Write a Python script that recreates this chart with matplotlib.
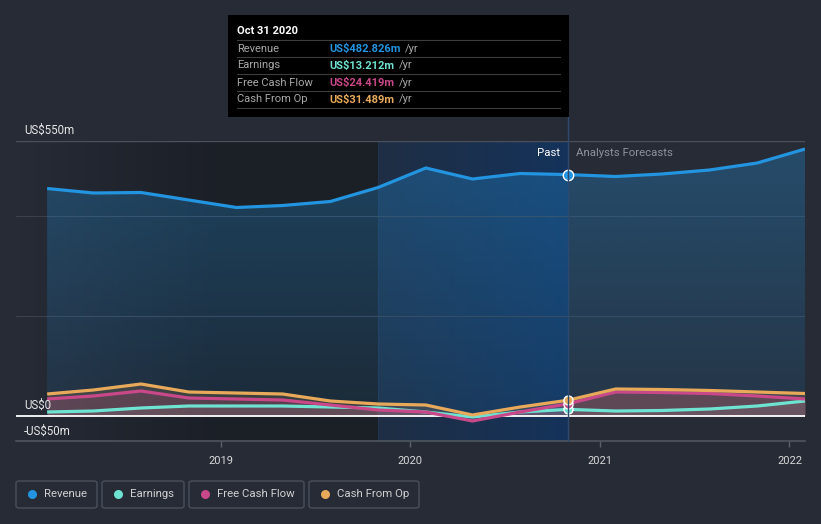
import numpy as np
import pandas as pd
import matplotlib
matplotlib.use("Agg")
import matplotlib.pyplot as plt
import matplotlib.dates as mdates
from matplotlib.patches import FancyBboxPatch, Rectangle
from matplotlib.colors import to_rgb

plt.rcParams['font.family'] = ['Roboto', 'DejaVu Sans']

# ---------------- data (US$ m) ----------------
dates = ["2018-01-31", "2018-04-30", "2018-07-31", "2018-10-31",
         "2019-01-31", "2019-04-30", "2019-07-31", "2019-10-31",
         "2020-01-31", "2020-04-30", "2020-07-31", "2020-10-31",
         "2021-01-31", "2021-04-30", "2021-07-31", "2021-10-31", "2022-01-31"]
revenue = [455, 446, 447, 432, 417, 421, 429, 457, 496, 474, 485, 482.826,
           479, 484, 492, 506, 534]
earnings = [8, 10, 16, 20, 20, 20, 18, 16, 8, -2, 8, 13.212,
            10, 11, 14, 20, 30]
free_cash_flow = [34, 40, 50, 36, 34, 32, 22, 12, 8, -10, 8, 24.419,
                  48, 47, 45, 40, 34]
cash_from_op = [44, 52, 64, 48, 46, 44, 30, 24, 22, 2, 18, 31.489,
                54, 53, 51, 48, 45]
series_names = ["Revenue", "Earnings", "Free Cash Flow", "Cash From Op"]
tooltip_values = ["US$482.826m", "US$13.212m", "US$24.419m", "US$31.489m"]
tooltip_date = "Oct 31 2020"
now_date = "2020-10-31"
highlight_start = "2019-10-31"
year_ticks = ["2019-01-01", "2020-01-01", "2021-01-01", "2022-01-01"]
year_labels = ["2019", "2020", "2021", "2022"]

# ---------------- style ----------------
BG = '#262b36'
C_REV = '#2394df'
C_EARN = '#6fe3d2'
C_FCF = '#c8488a'
C_CFO = '#e8aa5a'
colors = [C_REV, C_EARN, C_FCF, C_CFO]

W, H = 821, 524
fig = plt.figure(figsize=(W / 100, H / 100), dpi=100)
fig.patch.set_facecolor(BG)


def fx(x):
    return x / W


def fy(y):
    return 1 - y / H


ax_l, ax_r, ax_t, ax_b = 16, 805, 141, 441
ax = fig.add_axes([fx(ax_l), fy(ax_b), (ax_r - ax_l) / W, (ax_b - ax_t) / H])
ax.set_facecolor(BG)
for s in ax.spines.values():
    s.set_visible(False)

x = mdates.date2num(pd.to_datetime(dates))
x_now = mdates.date2num(pd.Timestamp(now_date))
x_hl = mdates.date2num(pd.Timestamp(highlight_start))
x_left = mdates.date2num(pd.Timestamp("2017-12-02"))
x_right = mdates.date2num(pd.Timestamp("2022-01-31"))

# background shading: darker past region
grad = np.linspace(0, 1, 256).reshape(1, -1)
dark = np.zeros((1, 256, 4))
dark[..., 3] = np.clip(grad * 1.8, 0, 1) * 0.28
ax.imshow(dark, extent=[x_left, x_hl, -50, 550], aspect='auto', zorder=0.1,
          interpolation='bilinear')
# highlighted last-year region
hl = np.zeros((1, 256, 4))
hl[..., :3] = to_rgb('#003c84')
hl[..., 3] = np.linspace(0.18, 0.47, 256)
ax.imshow(hl, extent=[x_hl, x_now, -50, 550], aspect='auto', zorder=0.2,
          interpolation='bilinear')
ax.axvline(x_hl, color='#2a4466', lw=0.8, zorder=0.3, alpha=0.5)

# gridlines
ax.axhline(550, color='#4a505c', lw=1.0, zorder=0.5)
for g in (400, 200):
    ax.axhline(g, color='#3a404c', lw=0.8, zorder=0.5)

# fills
poly = ax.fill_between(x, revenue, 0, color='none', lw=0, zorder=1)
rg = np.zeros((256, 1, 4))
rg[..., :3] = to_rgb(C_REV)
rg[..., 3] = np.linspace(0.32, 0.10, 256).reshape(-1, 1)
im = ax.imshow(rg, extent=[x_left, x_right, 0, 550], aspect='auto', zorder=1,
               interpolation='bilinear', origin='upper')
im.set_clip_path(poly.get_paths()[0], transform=ax.transData)
for vals, c, a in [(cash_from_op, C_CFO, 0.16), (free_cash_flow, C_FCF, 0.20),
                   (earnings, '#c8c8c8', 0.10)]:
    ax.fill_between(x, vals, 0, color=c, alpha=a, lw=0, zorder=1.2)

ax.set_xlim(x_left, x_right)
ax.set_ylim(-50, 550)

# zero line
ax.axhline(0, color='white', lw=1.3, zorder=2)

# lines
for vals, c, z in [(earnings, C_EARN, 3), (free_cash_flow, C_FCF, 3.1),
                   (cash_from_op, C_CFO, 3.2), (revenue, C_REV, 3.3)]:
    ax.plot(x, vals, color=c, lw=2.3, zorder=z, solid_joinstyle='round',
            solid_capstyle='butt')

# now vertical line
fig.add_artist(plt.Line2D([fx(568), fx(568)], [fy(117), fy(441)],
                          color='#2c4a70', lw=1.0, zorder=1))

# markers at now
i_now = dates.index(now_date)
for vals, c, s in [(earnings, C_EARN, 6.5), (free_cash_flow, C_FCF, 6.5),
                   (cash_from_op, C_CFO, 6.5), (revenue, C_REV, 7.5)]:
    ax.plot(x[i_now], vals[i_now], 'o', ms=s, mfc=c, mec='white', mew=1.0,
            zorder=5)

# x axis
ax.set_xticks(mdates.date2num(pd.to_datetime(year_ticks)))
ax.set_xticklabels(year_labels)
ax.tick_params(axis='x', colors='#5a606b', length=4, width=1, pad=7,
               labelcolor='#d8d8d8', labelsize=8)
ax.set_yticks([])
ax.axhline(-50, color='#50565f', lw=1.2, zorder=2, clip_on=False)

# y labels
for yv, txt in [(134, "US$550m"), (409, "US$0"), (435, "-US$50m")]:
    fig.text(fx(24), fy(yv), txt, color='#e6e6e6', fontsize=8.3,
             va='baseline', ha='left')

fig.text(fx(560), fy(153), "Past", color='white', fontsize=8.2, ha='right',
         va='center')
fig.text(fx(576), fy(153), "Analysts Forecasts", color='#8d929b',
         fontsize=8.2, ha='left', va='center')

# tooltip
fig.add_artist(Rectangle((fx(228), fy(117)), (569 - 228) / W, (117 - 15) / H,
                         transform=fig.transFigure, facecolor='black',
                         edgecolor='none', zorder=10))
fig.text(fx(237), fy(31), tooltip_date, color='white', fontsize=8,
         fontweight='bold', va='center', ha='left', zorder=11)
for yy in (40, 57, 74, 91, 108):
    fig.add_artist(plt.Line2D([fx(237), fx(560)], [fy(yy), fy(yy)],
                              color='#3c3c3c', lw=0.8, zorder=11))
val_texts = []
for k, (name, val, c) in enumerate(zip(series_names, tooltip_values, colors)):
    yy = 48.5 + 17 * k
    fig.text(fx(237), fy(yy), name, color='#a8a8a8', fontsize=8,
             va='center', ha='left', zorder=11)
    t = fig.text(fx(329), fy(yy), val, color=c, fontsize=8, fontweight='bold',
                 va='center', ha='left', zorder=11)
    val_texts.append((t, yy))
fig.canvas.draw()
r = fig.canvas.get_renderer()
for t, yy in val_texts:
    bb = t.get_window_extent(renderer=r)
    fig.text((bb.x1 + 5) / W, fy(yy), "/yr", color='#a8a8a8', fontsize=8,
             va='center', ha='left', zorder=11)

# legend
legend_boxes = [(16, 97), (102, 184), (189, 304), (309, 419)]
for (l, rr), name, c in zip(legend_boxes, series_names, colors):
    fig.add_artist(FancyBboxPatch((fx(l), fy(508)), (rr - l) / W, 27 / H,
                                  boxstyle='round,pad=0,rounding_size=0.004',
                                  transform=fig.transFigure, facecolor='none',
                                  edgecolor='#4b515c', lw=1.0))
    fig.add_artist(plt.Line2D([fx(l + 16)], [fy(494)], marker='o', ms=6.5,
                              mfc=c, mec='none', transform=fig.transFigure))
    fig.text(fx(l + 28), fy(494), name, color='#d0d0d0', fontsize=8.2,
             va='center', ha='left')

fig.savefig("out.png", dpi=100, facecolor=BG)
